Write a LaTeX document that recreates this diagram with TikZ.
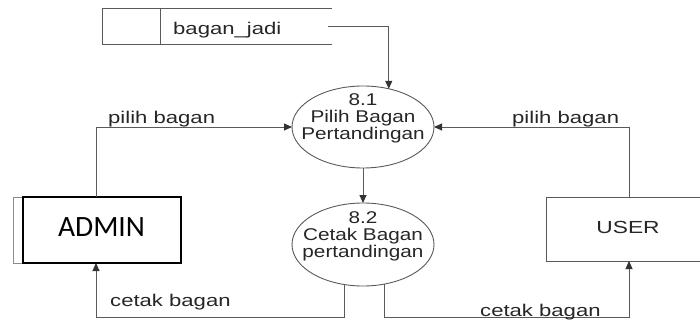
\documentclass[tikz,border=0pt]{standalone}
\usepackage{fontspec}
\usetikzlibrary{shapes.geometric,arrows.meta}
\newfontfamily\flowfont[FakeStretch=1.3]{Liberation Sans}
\newfontfamily\procfont[FakeStretch=1.22]{Liberation Sans}
\newfontfamily\entfont{Carlito}
\begin{document}
\begin{tikzpicture}[x=1pt,y=-1pt,
  wire/.style={draw=black!65, line width=0.9pt},
  flow/.style={wire, -{Triangle[length=8pt,width=7pt,color=black!80]}},
  flowlabel/.style={font=\flowfont\fontsize{17}{17}\selectfont, text=black!85, inner sep=0pt, anchor=base west},
  proc/.style={ellipse, draw=black!65, line width=0.9pt, inner sep=0pt, outer sep=0pt,
    minimum width=142pt, minimum height=82pt},
  proctext/.style={font=\procfont\fontsize{17}{16.75}\selectfont, text=black!85, align=center, inner sep=0pt},
  entity/.style={rectangle, inner sep=0pt, outer sep=0pt}]
\useasboundingbox (0,0) rectangle (700,323);

% data store
\node[entity, minimum width=230pt, minimum height=36pt] (store) at (217,26) {};
\draw[wire] (store.north east) -- (store.north west) -- (store.south west) -- (store.south east);
\draw[wire] (160,8) -- (160,44);
\node[flowlabel] (storelbl) at (173,35) {bagan\_jadi};

% processes
\node[proc] (p81) at (363,127) {};
\node[proctext] (p81t) at (363,118.5) {8.1\\Pilih Bagan\\Pertandingan};
\node[proc, minimum height=83pt] (p82) at (363,244.5) {};
\node[proctext] (p82t) at (363,236.5) {8.2\\Cetak Bagan\\pertandingan};

% external entities
\draw[black!45, line width=0.8pt] (13,197) rectangle (23,263);
\node[entity, draw=black, line width=1.2pt, minimum width=158pt, minimum height=66pt] (admin) at (102,230) {};
\node[font=\entfont\fontsize{29.5}{29.5}\selectfont, inner sep=0pt, anchor=base] (admintxt) at (101.5,236.5) {ADMIN};
\node[entity, draw=black!65, line width=0.9pt, minimum width=166pt, minimum height=64pt] (user) at (629,229) {};
\node[font=\flowfont\fontsize{17.5}{17.5}\selectfont, text=black!85, inner sep=0pt, anchor=base] (usertxt) at (628,233.5) {USER};

% data flows
\draw[flow] ([xshift=-4pt]store.east) -| (p81.56);
\draw[flow] (p81.south) -- (p82.north);
\coordinate (al) at (96,0);
\draw[flow] (al |- admin.north) |- (p81.west);
\node[flowlabel] (l1) at (108,124) {pilih bagan};
\draw[flow] (user.north) |- (p81.east);
\node[flowlabel] (l2) at (512,123.5) {pilih bagan};
\coordinate (bot) at (0,317.5);
\draw[flow] (p82.245) -- (p82.245 |- bot) -| (al |- admin.south);
\node[flowlabel] (l3) at (110,306.7) {cetak bagan};
\draw[flow] (p82.298) -- (p82.298 |- bot) -| (user.south);
\node[flowlabel] (l4) at (480,316.5) {cetak bagan};
\end{tikzpicture}
\end{document}
